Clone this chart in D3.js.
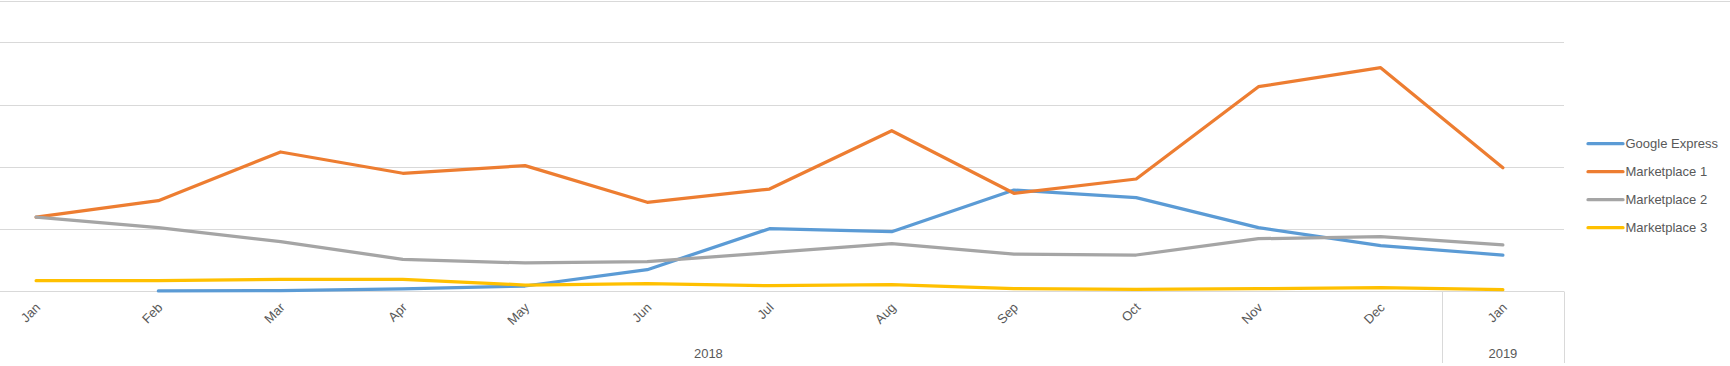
<!DOCTYPE html>
<html>
<head>
<meta charset="utf-8">
<script src="https://cdn.jsdelivr.net/npm/d3@7"></script>
<style>
  html, body { margin: 0; padding: 0; background: #fff; }
  svg { display: block; }
  text { font-family: "Liberation Sans", Arial, sans-serif; fill: #595959; }
</style>
</head>
<body>
<svg id="chart" width="1730" height="366"></svg>
<script>
// ---- data ----
const months = ["Jan","Feb","Mar","Apr","May","Jun","Jul","Aug","Sep","Oct","Nov","Dec","Jan"];
const years = [{label: "2018", from: 0, to: 11}, {label: "2019", from: 12, to: 12}];
const seriesNames = ["Google Express", "Marketplace 1", "Marketplace 2", "Marketplace 3"];
const googleExpress = [null, 5, 10, 37, 85, 347, 1006, 958, 1627, 1504, 1022, 733, 583];
const marketplace1 = [1190, 1455, 2238, 1896, 2018, 1430, 1643, 2580, 1574, 1804, 3287, 3592, 1986];
const marketplace2 = [1190, 1022, 797, 514, 455, 476, 620, 765, 599, 583, 845, 877, 744];
const marketplace3 = [170, 170, 193, 193, 101, 122, 90, 106, 42, 32, 42, 58, 26];
const yTicks = [0, 1000, 2000, 3000, 4000];
const colors = ["#5B9BD5", "#ED7D31", "#A5A5A5", "#FFC000"];

// ---- layout ----
const W = 1730, H = 366;
const plotLeft = -25, plotRight = 1564;
const yBase = 291.3, yTop = 42.3;

const svg = d3.select("#chart");
const idx = months.map((m, i) => i);

const x = d3.scaleBand().domain(idx).range([plotLeft, plotRight]).paddingInner(0).paddingOuter(0);
const bw = x.bandwidth();
const cx = i => x(i) + bw / 2;
const y = d3.scaleLinear().domain([0, 4000]).range([yBase, yTop]);

// top border
svg.append("line")
  .attr("x1", 0).attr("x2", W).attr("y1", 1.5).attr("y2", 1.5)
  .attr("stroke", "#D9D9D9").attr("stroke-width", 1);

// gridlines
svg.append("g").selectAll("line").data(yTicks).join("line")
  .attr("x1", plotLeft).attr("x2", plotRight)
  .attr("y1", d => Math.round(y(d)) + 0.5).attr("y2", d => Math.round(y(d)) + 0.5)
  .attr("stroke", "#D9D9D9").attr("stroke-width", 1);

// category axis separators (year groups)
const sepX = [x(12), plotRight];
svg.append("g").selectAll("line").data(sepX).join("line")
  .attr("x1", d => Math.round(d) + 0.5).attr("x2", d => Math.round(d) + 0.5)
  .attr("y1", Math.round(yBase) + 0.5).attr("y2", 363)
  .attr("stroke", "#D9D9D9").attr("stroke-width", 1);

// month labels
svg.append("g").selectAll("text").data(idx).join("text")
  .attr("text-anchor", "end")
  .attr("font-size", 13)
  .attr("transform", i => `translate(${cx(i) + 5},${yBase + 17}) rotate(-45)`)
  .text(i => months[i]);

// year labels
svg.append("g").selectAll("text").data(years).join("text")
  .attr("text-anchor", "middle")
  .attr("font-size", 13)
  .attr("x", d => (x(d.from) + x(d.to) + bw) / 2)
  .attr("y", 358)
  .text(d => d.label);

// lines
const allSeries = [googleExpress, marketplace1, marketplace2, marketplace3];
const line = d3.line()
  .defined(d => d != null)
  .x((d, i) => cx(i))
  .y(d => y(d));

svg.append("g").selectAll("path").data(allSeries).join("path")
  .attr("d", d => line(d))
  .attr("fill", "none")
  .attr("stroke", (d, i) => colors[i])
  .attr("stroke-width", 3.25)
  .attr("stroke-linejoin", "round")
  .attr("stroke-linecap", "round");

// legend
const legend = svg.append("g").attr("transform", "translate(1588,143.7)");
const item = legend.selectAll("g").data(seriesNames).join("g")
  .attr("transform", (d, i) => `translate(0,${i * 28})`);
item.append("line")
  .attr("x1", 0).attr("x2", 35).attr("y1", 0).attr("y2", 0)
  .attr("stroke", (d, i) => colors[i]).attr("stroke-width", 3.25)
  .attr("stroke-linecap", "round");
item.append("text")
  .attr("x", 37.5).attr("y", 0).attr("dy", "0.35em")
  .attr("font-size", 13)
  .text(d => d);
</script>
</body>
</html>
